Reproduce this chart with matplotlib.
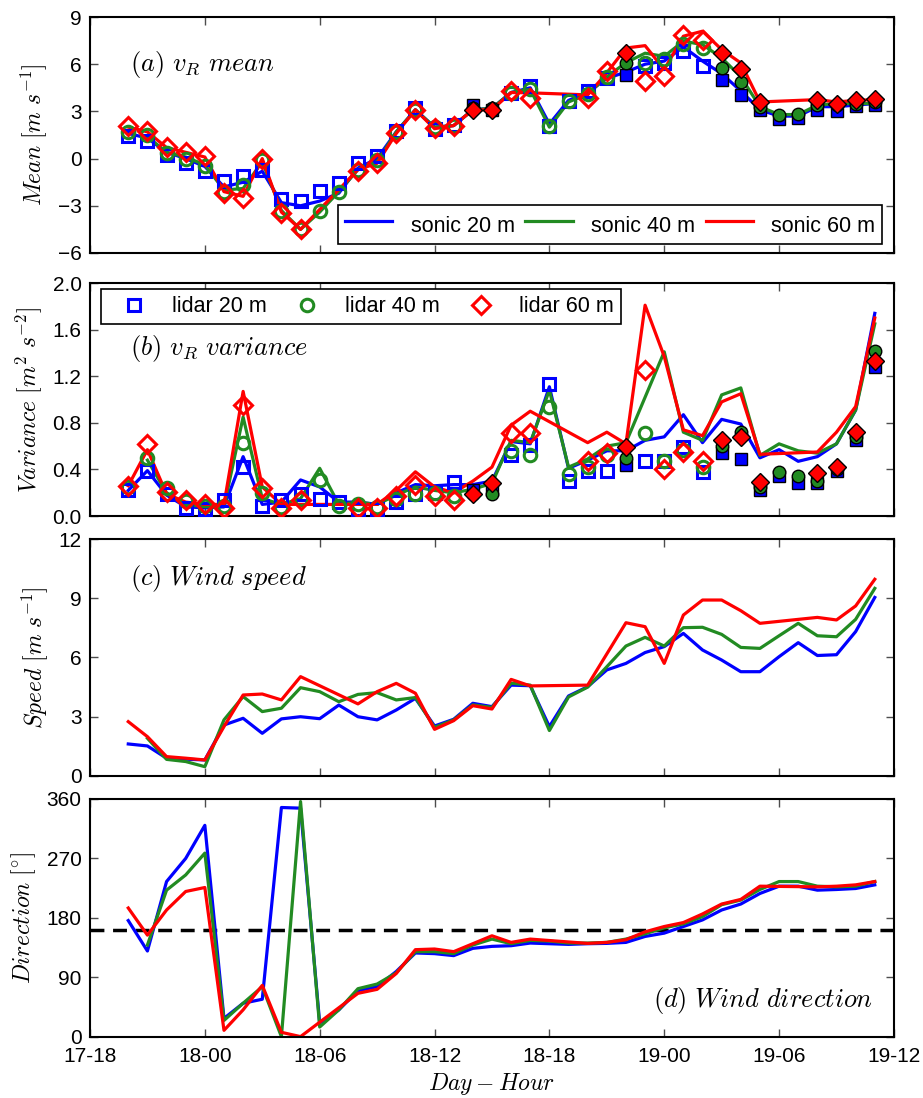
import numpy as np
import matplotlib.pyplot as plt

plt.rcParams['font.family'] = ['Liberation Sans', 'DejaVu Sans']
plt.rcParams['mathtext.fontset'] = 'cm'

# hours since day 17, 00:00 -> 17-20 ... 19-11
hours = np.arange(20, 60)
nan = np.nan

# records with a quality flag (drawn as filled markers)
flagged = [18, 19, 26, 31, 32, 33, 34, 35, 36, 37, 38, 39]

# (a) mean radial velocity [m/s]
mean_sonic20 = [1.6, 1.3, 0.4, 0.0, -0.5, -1.8, -1.5, -0.8, -2.8, -3.0,
                -2.7, -2.2, -0.6, 0.0, 1.7, 3.1, 2.0, 2.1, 3.1, 3.2,
                4.2, 4.5, 2.2, 3.7, 4.2, 5.1, 5.5, 6.0, 6.2, 7.1,
                6.2, 5.4, 4.3, 3.1, 2.7, 2.7, 3.3, 3.3, 3.4, 3.5]
mean_sonic40 = [nan, 1.4, 0.4, 0.1, -0.4, -2.0, -1.9, -0.2, -3.3, -4.5,
                -3.4, -2.1, -0.7, -0.2, 1.7, 3.1, 2.0, 2.1, 3.1, 3.2,
                4.2, 4.4, 2.0, 3.6, 4.1, 5.2, 6.1, 6.7, 6.5, 7.46,
                7.25, 6.4, 5.2, 3.3, 2.8, 2.8, 3.4, 3.5, 3.5, 3.5]
mean_sonic60 = [2.0, 1.7, 0.7, 0.4, 0.1, -2.1, -2.4, 0.0, -3.4, -4.5,
                nan, nan, -0.7, -0.3, 1.6, 3.1, 1.9, 2.1, 3.1, 3.1,
                4.2, 4.18, nan, nan, 4.05, 5.45, 7.03, 7.18, 5.66, 7.78,
                8.1, 6.93, 6.08, 3.6, nan, nan, 3.75, 3.6, 3.7, 3.75]
mean_lidar20 = [1.42, 1.1, 0.25, -0.28, -0.8, -1.44, -1.12, -0.7, -2.6, -2.7,
                -2.08, -1.55, -0.28, 0.15, 1.74, 3.22, 1.85, 2.16, 3.43, 3.1,
                4.2, 4.6, 2.05, 3.64, 4.28, 5.13, 5.34, 5.87, 6.08, 6.82,
                5.87, 5.02, 4.07, 3.07, 2.52, 2.59, 3.12, 3.0, 3.33, 3.43]
mean_lidar40 = [1.7, 1.5, 0.35, 0.0, -0.5, -2.1, -1.7, -0.1, -3.3, -4.5,
                -3.35, -2.1, -0.7, -0.1, 1.7, 3.1, 2.0, 2.1, 3.2, 3.2,
                4.2, 4.45, 2.05, 3.64, 4.1, 5.2, 6.08, 6.08, 6.3, 7.3,
                7.0, 5.76, 4.85, 3.3, 2.8, 2.86, 3.4, 3.4, 3.5, 3.6]
mean_lidar60 = [2.05, 1.74, 0.74, 0.4, 0.15, -2.18, -2.5, 0.0, -3.45, -4.5,
                nan, nan, -0.8, -0.28, 1.6, 3.1, 1.95, 2.05, 3.1, 3.1,
                4.28, 3.86, nan, nan, 3.86, 5.55, 6.72, 4.91, 5.23, 7.88,
                7.56, 6.72, 5.7, 3.58, nan, nan, 3.75, 3.5, 3.7, 3.79]

# (b) radial velocity variance [m2/s2]
var_sonic20 = [0.22, 0.39, 0.18, 0.08, 0.07, 0.08, 0.51, 0.1, 0.12, 0.31,
               0.25, 0.12, 0.12, 0.1, 0.2, 0.27, 0.26, 0.27, 0.27, 0.3,
               0.64, 0.62, 1.11, 0.41, 0.48, 0.56, 0.56, 0.65, 0.68, 0.87,
               0.63, 0.83, 0.79, 0.5, 0.57, 0.47, 0.51, 0.62, 0.91, 1.74]
var_sonic40 = [nan, 0.48, 0.2, 0.1, 0.08, 0.08, 0.85, 0.15, 0.1, 0.15,
               0.41, 0.1, 0.12, 0.1, 0.18, 0.25, 0.22, 0.2, 0.23, 0.28,
               0.65, 0.63, 1.08, 0.42, 0.49, 0.6, 0.63, 1.02, 1.41, 0.72,
               0.65, 1.04, 1.1, 0.52, 0.62, 0.56, 0.54, 0.62, 0.91, 1.65]
var_sonic60 = [0.26, 0.57, 0.19, 0.12, 0.1, 0.1, 1.07, 0.25, 0.1, 0.1,
               nan, nan, 0.1, 0.1, 0.22, 0.38, 0.25, 0.2, 0.3, 0.42,
               0.78, 0.9, nan, nan, 0.63, 0.72, 0.62, 1.81, 1.37, 0.74,
               0.69, 0.98, 1.05, 0.53, nan, nan, 0.55, 0.72, 0.94, 1.7]
var_lidar20 = [0.22, 0.39, 0.19, 0.07, 0.06, 0.14, 0.42, 0.09, 0.14, 0.19,
               0.15, 0.12, 0.06, 0.06, 0.12, 0.19, 0.2, 0.29, 0.22, 0.22,
               0.52, 0.61, 1.13, 0.30, 0.39, 0.39, 0.44, 0.47, 0.47, 0.59,
               0.38, 0.54, 0.49, 0.22, 0.34, 0.28, 0.28, 0.39, 0.65, 1.28]
var_lidar40 = [0.25, 0.50, 0.24, 0.13, 0.09, 0.09, 0.63, 0.2, 0.08, 0.15,
               0.31, 0.09, 0.1, 0.08, 0.15, 0.19, 0.2, 0.17, 0.19, 0.19,
               0.56, 0.52, 0.94, 0.36, 0.42, 0.52, 0.50, 0.71, 0.47, 0.57,
               0.42, 0.6, 0.72, 0.25, 0.38, 0.34, 0.30, 0.40, 0.68, 1.42]
var_lidar60 = [0.26, 0.62, 0.21, 0.14, 0.10, 0.07, 0.95, 0.24, 0.07, 0.14,
               nan, nan, 0.07, 0.07, 0.17, 0.27, 0.17, 0.14, 0.19, 0.28,
               0.71, 0.71, nan, nan, 0.47, 0.54, 0.59, 1.25, 0.40, 0.55,
               0.47, 0.65, 0.68, 0.29, nan, nan, 0.37, 0.42, 0.72, 1.33]

# (c) wind speed [m/s]
speed20 = [1.62, 1.52, 0.9, 0.85, 0.81, 2.58, 2.92, 2.16, 2.89, 3.0,
           2.9, 3.59, 3.0, 2.84, 3.34, 3.93, 2.53, 2.87, 3.68, 3.51,
           4.6, 4.57, 2.5, 4.05, 4.52, 5.37, 5.7, 6.25, 6.55, 7.22,
           6.38, 5.87, 5.28, 5.28, 6.04, 6.75, 6.1, 6.14, 7.31, 9.04]
speed40 = [nan, 1.91, 0.84, 0.73, 0.47, 2.84, 4.02, 3.26, 3.43, 4.47,
           4.27, 3.76, 4.13, 4.22, 3.85, 3.97, 2.46, 2.84, 3.6, 3.47,
           4.7, 4.6, 2.3, 4.0, 4.5, 5.53, 6.58, 7.02, 6.58, 7.51,
           7.53, 7.17, 6.51, 6.46, 7.1, 7.73, 7.1, 7.05, 7.93, 9.5]
speed60 = [2.75, 1.99, 0.98, 0.9, 0.81, 2.5, 4.1, 4.15, 3.85, 5.03,
           nan, nan, 3.65, 4.27, 4.69, 4.19, 2.36, 2.8, 3.56, 3.39,
           4.89, 4.56, nan, nan, 4.6, 6.18, 7.76, 7.56, 5.7, 8.15,
           8.91, 8.91, 8.37, 7.73, nan, nan, 8.03, 7.9, 8.61, 9.96]

# (d) wind direction [deg]
dir20 = [176, 130, 235, 270, 320, 28, 51, 57, 347, 346,
         21, 41, 70, 76, 99, 127, 126, 123, 134, 137,
         138, 142, 141, 140, 141, 141.5, 143, 152, 157, 167,
         177, 192, 201, 217, 228, 228, 222, 223, 224.5, 230]
dir40 = [nan, 139, 222, 245, 278, 25, 51, 76, 0.5, 356,
         15, 41, 73, 80, 97, 129, 129, 126, 139, 148,
         141, 146, 145, 142, 142, 143, 148, 156, 165, 171,
         182, 200, 207, 223, 235, 235, 228, 227, 228, 235]
dir60 = [195, 154, 192, 220, 226, 10, 41, 78, 7, 0.5,
         nan, nan, 66, 72, 96, 132, 133, 129, 141, 153,
         143, 148, nan, nan, 141.5, 143, 147, 159, 167, 173,
         186, 201, 208, 228, nan, nan, 227, 228, 230, 235]
dir_ref = 162

heights = ['20', '40', '60']
colors = ['b', 'forestgreen', 'r']
markers = ['s', 'o', 'D']
msizes = [9, 9, 9.5]

fig = plt.figure(figsize=(9.23, 10.98), dpi=100)
L, W = 0.0975, 0.871
ax_a = fig.add_axes([L, 0.7696, W, 0.2149])
ax_b = fig.add_axes([L, 0.5300, W, 0.2122])
ax_c = fig.add_axes([L, 0.2933, W, 0.2158])
ax_d = fig.add_axes([L, 0.0556, W, 0.2168])
axes = [ax_a, ax_b, ax_c, ax_d]


def draw_line(ax, y, c, label=None):
    y = np.asarray(y, float)
    ok = ~np.isnan(y)
    return ax.plot(hours[ok], y[ok], '-', color=c, lw=2.3, label=label, zorder=2)[0]


def draw_lidar(ax, y, c, m, ms, label=None):
    y = np.asarray(y, float)
    fl = np.zeros(len(y), bool)
    fl[flagged] = True
    h = ax.plot(hours[~fl], y[~fl], m, mfc='none', mec=c, mew=2.2, ms=ms,
                ls='none', label=label, zorder=3)[0]
    ax.plot(hours[fl], y[fl], m, mfc=c, mec='k', mew=1.0, ms=ms, ls='none', zorder=3)
    return h


sonic_mean = [mean_sonic20, mean_sonic40, mean_sonic60]
lidar_mean = [mean_lidar20, mean_lidar40, mean_lidar60]
sonic_var = [var_sonic20, var_sonic40, var_sonic60]
lidar_var = [var_lidar20, var_lidar40, var_lidar60]
speeds = [speed20, speed40, speed60]
dirs = [dir20, dir40, dir60]

line_handles = []
marker_handles = []
for k in range(3):
    line_handles.append(draw_line(ax_a, sonic_mean[k], colors[k], 'sonic %s m' % heights[k]))
    draw_line(ax_b, sonic_var[k], colors[k])
    draw_line(ax_c, speeds[k], colors[k])
    draw_line(ax_d, dirs[k], colors[k])
for k in range(3):
    draw_lidar(ax_a, lidar_mean[k], colors[k], markers[k], msizes[k])
    marker_handles.append(draw_lidar(ax_b, lidar_var[k], colors[k], markers[k], msizes[k],
                                     'lidar %s m' % heights[k]))

ax_d.axhline(dir_ref, color='k', ls='--', lw=2.5, dashes=(4, 2.5), zorder=1)

ax_a.set_ylim(-6, 9)
ax_a.set_yticks(np.arange(-6, 10, 3))
ax_b.set_ylim(0, 2.0)
ax_b.set_yticks(np.arange(0, 2.01, 0.4))
ax_b.set_yticklabels(['%.1f' % v for v in np.arange(0, 2.01, 0.4)])
ax_c.set_ylim(0, 12)
ax_c.set_yticks(np.arange(0, 13, 3))
ax_d.set_ylim(0, 360)
ax_d.set_yticks(np.arange(0, 361, 90))

xt = np.arange(18, 61, 6)
for ax in axes:
    ax.set_xlim(18, 60)
    ax.set_xticks(xt)
    ax.tick_params(direction='in', top=True, right=True, length=6, width=1,
                   labelsize=15, color='0.3')
    ax.tick_params(axis='y', pad=6)
    ax.tick_params(axis='x', pad=7)
    for s in ax.spines.values():
        s.set_linewidth(1.5)
    if ax is not ax_d:
        ax.set_xticklabels([])
ax_d.set_xticklabels(['%d-%02d' % (17 + h // 24, h % 24) for h in xt])

ylab = 17
ax_a.set_ylabel(r'$Mean\ [m\ s^{-1}]$', fontsize=ylab, labelpad=6)
ax_b.set_ylabel(r'$Variance\ [m^2\ s^{-2}]$', fontsize=ylab, labelpad=6)
ax_c.set_ylabel(r'$Speed\ [m\ s^{-1}]$', fontsize=ylab, labelpad=6)
ax_d.set_ylabel(r'$Direction\ [^{\circ}]$', fontsize=ylab, labelpad=6)
ax_d.set_xlabel(r'$Day-Hour$', fontsize=ylab, labelpad=4)

tsize = 19
ax_a.text(0.05, 0.80, r'$(a)\ v_R\ mean$', transform=ax_a.transAxes, fontsize=tsize, va='center')
ax_b.text(0.05, 0.72, r'$(b)\ v_R\ variance$', transform=ax_b.transAxes, fontsize=tsize, va='center')
ax_c.text(0.05, 0.835, r'$(c)\ Wind\ speed$', transform=ax_c.transAxes, fontsize=tsize, va='center')
ax_d.text(0.974, 0.155, r'$(d)\ Wind\ direction$', transform=ax_d.transAxes, fontsize=tsize,
          va='center', ha='right')

leg = ax_a.legend(handles=line_handles, loc='lower right', bbox_to_anchor=(0.985, 0.038),
                  ncol=3, fontsize=15.5, fancybox=False, edgecolor='k', framealpha=1,
                  borderaxespad=0, handlelength=2.2, handleheight=1.5, handletextpad=0.85,
                  columnspacing=0.5, borderpad=0.3)
leg.get_frame().set_linewidth(1.2)
leg2 = ax_b.legend(handles=marker_handles, loc='upper left', bbox_to_anchor=(0.0137, 0.974),
                   ncol=3, fontsize=15.5, fancybox=False, edgecolor='k', framealpha=1,
                   borderaxespad=0, numpoints=1, handlelength=2.36, handletextpad=0.6,
                   columnspacing=0.7, borderpad=0.33)
leg2.get_frame().set_linewidth(1.2)

plt.savefig('out.png', dpi=100)
